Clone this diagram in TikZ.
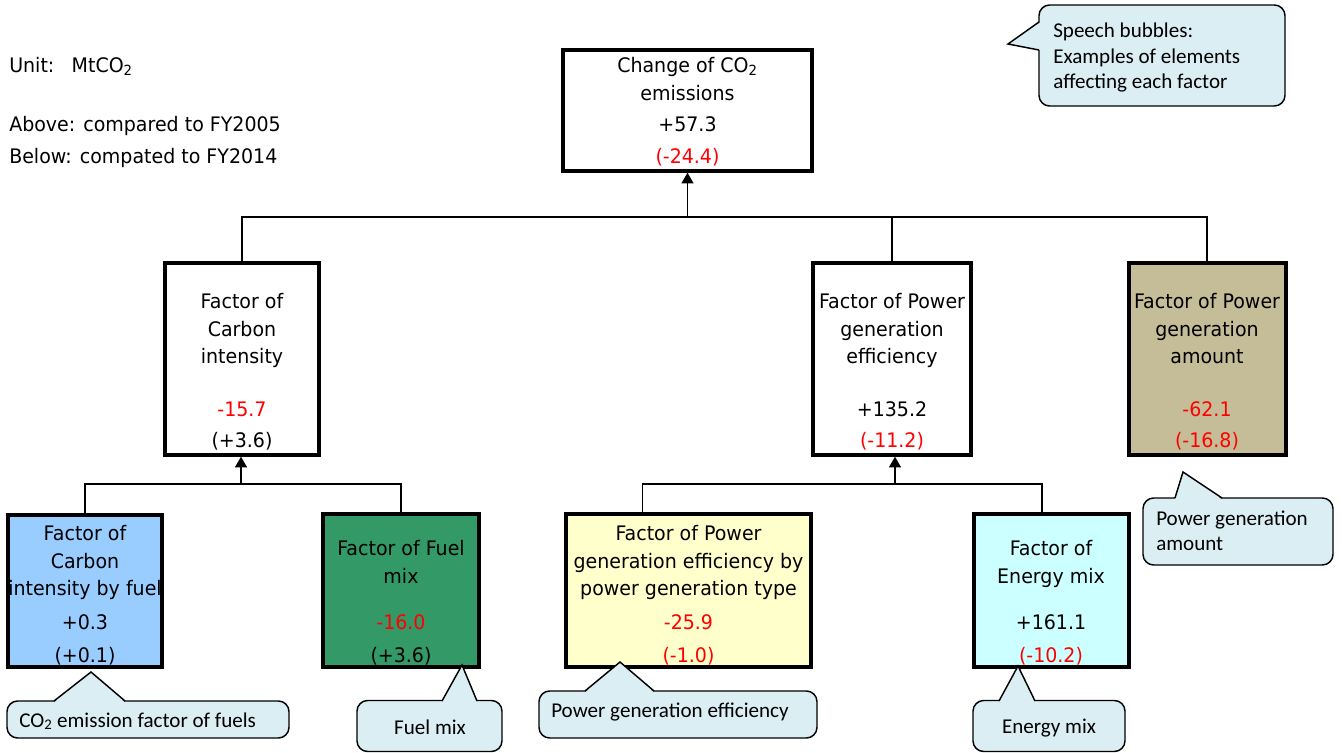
\documentclass[tikz,border=0pt]{standalone}
\usepackage{fontspec}
\usetikzlibrary{arrows.meta}
\newfontfamily\mainf[FakeStretch=0.95]{DejaVu Sans}
\newfontfamily\bubf{Carlito}
\definecolor{bubfill}{HTML}{DBEEF4}
\definecolor{cblue}{HTML}{99CCFF}
\definecolor{cgreen}{HTML}{339966}
\definecolor{cyellow}{HTML}{FFFFCC}
\definecolor{ccyan}{HTML}{CCFFFF}
\definecolor{ctan}{HTML}{C4BD97}
\begin{document}
\begin{tikzpicture}[x=0.75pt,y=-0.75pt,
  box/.style n args={2}{draw=black, line width=3pt, inner sep=0pt, outer sep=0pt, minimum width=#1, minimum height=#2},
  txt/.style={font=\mainf\fontsize{15}{21}\selectfont, inner sep=0pt, anchor=base},
  lefttxt/.style={txt, anchor=base west},
  neg/.style={txt, text=red},
  bubble/.style n args={2}{draw=black, line width=1.1pt, fill=bubfill, rounded corners=8pt, inner sep=0pt, minimum width=#1, minimum height=#2},
  btxt/.style={font=\bubf\fontsize{15.8}{19}\selectfont, inner sep=0pt, anchor=base west},
  ptrfill/.style={fill=bubfill},
  ptrline/.style={draw=black, line width=1.1pt, line join=miter},
  conn/.style={draw=black, line width=1pt},
  arr/.style={conn, -{Triangle[width=9pt,length=8pt]}, shorten >=1.3pt}
]
\useasboundingbox (0,0) rectangle (1343,753);

% ---------- left legend ----------
\node[lefttxt] (unit) at (9,72) {Unit:\hspace{13pt}MtCO\textsubscript{2}};
\node[lefttxt] (above) at (9,131) {Above: compared to FY2005};
\node[lefttxt] (below) at (9,163) {Below: compated to FY2014};

% ---------- boxes ----------
\node[box={186.75pt}{90.75pt}] (top) at (687.5,110.5) {};
\node[box={115.5pt}{144pt}] (carbon) at (242,359) {};
\node[box={118.5pt}{144pt}] (pge) at (892,359) {};
\node[box={117.75pt}{144pt}, fill=ctan] (pga) at (1207,358.5) {};
\node[box={115.5pt}{114pt}, fill=cblue] (blue) at (85,591) {};
\node[box={117pt}{114.75pt}, fill=cgreen] (green) at (401,590.5) {};
\node[box={183.75pt}{114.75pt}, fill=cyellow] (yellow) at (688.5,590.5) {};
\node[box={116.25pt}{114.75pt}, fill=ccyan] (cyan) at (1051,590.5) {};

% ---------- box texts ----------
\node[txt] (t1) at (687.5,72) {Change of CO\textsubscript{2}};
\node[txt] (t2) at (687.5,100) {emissions};
\node[txt] (t3) at (687.5,131) {+57.3};
\node[neg] (t4) at (687.5,163) {(-24.4)};

\node[txt] (c1) at (242,308) {Factor of};
\node[txt] (c2) at (242,336) {Carbon};
\node[txt] (c3) at (242,363) {intensity};
\node[neg] (c4) at (242,416) {-15.7};
\node[txt] (c5) at (242,447) {(+3.6)};

\node[txt] (e1) at (892,308) {Factor of Power};
\node[txt] (e2) at (892,336) {generation};
\node[txt] (e3) at (892,363) {efficiency};
\node[txt] (e4) at (892,416) {+135.2};
\node[neg] (e5) at (892,447) {(-11.2)};

\node[txt] (a1) at (1207,308) {Factor of Power};
\node[txt] (a2) at (1207,336) {generation};
\node[txt] (a3) at (1207,363) {amount};
\node[neg] (a4) at (1207,416) {-62.1};
\node[neg] (a5) at (1207,447) {(-16.8)};

\node[txt] (b1) at (85,540) {Factor of};
\node[txt] (b2) at (85,568) {Carbon};
\node[txt] (b3) at (85,595) {intensity by fuel};
\node[txt] (b4) at (85,629) {+0.3};
\node[txt] (b5) at (85,662) {(+0.1)};

\node[txt] (g1) at (401,555) {Factor of Fuel};
\node[txt] (g2) at (401,583) {mix};
\node[neg] (g3) at (401,629) {-16.0};
\node[txt] (g4) at (401,662) {(+3.6)};

\node[txt] (y1) at (688.5,540) {Factor of Power};
\node[txt] (y2) at (688.5,568) {generation efficiency by};
\node[txt] (y3) at (688.5,595) {power generation type};
\node[neg] (y4) at (688.5,629) {-25.9};
\node[neg] (y5) at (688.5,662) {(-1.0)};

\node[txt] (m1) at (1051,555) {Factor of};
\node[txt] (m2) at (1051,583) {Energy mix};
\node[txt] (m3) at (1051,629) {+161.1};
\node[neg] (m4) at (1051,662) {(-10.2)};

% ---------- connectors ----------
\coordinate (bar1) at (687.5,217);
\draw[conn] (carbon.north) |- (bar1) -| (pga.north);
\draw[conn] (pge.north) -- (pge.north |- bar1);
\draw[arr] (bar1) -- (top.south);

\coordinate (bar2) at (241,484);
\draw[conn] (blue.north) |- (bar2) -| (green.north);
\draw[arr] (bar2) -- (bar2 |- carbon.south);

\coordinate (bar3) at (895,484);
\coordinate (yj) at ([xshift=-34.5pt]yellow.north);
\coordinate (mj) at ([xshift=-6.75pt]cyan.north);
\draw[conn] (yj) |- (bar3) -| (mj);
\draw[arr] (bar3) -- (bar3 |- pge.south);

% ---------- speech bubbles ----------
% legend bubble
\node[bubble={184.5pt}{75.75pt}] (bl) at (1162,55.5) {};
\fill[ptrfill] (1040.5,22) -- (1008,44) -- (1040.5,50) -- cycle;
\draw[ptrline] (1039,22) -- (1008,44) -- (1039,50);
\node[btxt] (bl1) at (1053,37) {Speech bubbles:};
\node[btxt] (bl2) at (1053,63) {Examples of elements};
\node[btxt] (bl3) at (1053,88) {affecting each factor};

% CO2 emission factor
\node[bubble={211.5pt}{27.75pt}] (bco) at (148,719.5) {};
\fill[ptrfill] (54,702.5) -- (91,672) -- (125,702.5) -- cycle;
\draw[ptrline] (54,701) -- (91,672) -- (125,701);
\node[btxt] (bcot) at (19,727) {CO\textsubscript{2} emission factor of fuels};

% Fuel mix
\node[bubble={108.75pt}{38.25pt}] (bfu) at (429.5,726) {};
\fill[ptrfill] (442,702.5) -- (462,665) -- (477,702.5) -- cycle;
\draw[ptrline] (442,701) -- (462,665) -- (477,701);
\node[btxt, anchor=base] (bfut) at (430,734) {Fuel mix};

% Power generation efficiency
\node[bubble={208.5pt}{35.25pt}] (bpe) at (678,714.5) {};
\fill[ptrfill] (585,692.5) -- (620,662) -- (654,692.5) -- cycle;
\draw[ptrline] (585,691) -- (620,662) -- (654,691);
\node[btxt] (bpet) at (551,717) {Power generation efficiency};

% Energy mix
\node[bubble={114pt}{38.25pt}] (ben) at (1049,726) {};
\fill[ptrfill] (999,702.5) -- (1018,666) -- (1035,702.5) -- cycle;
\draw[ptrline] (999,701) -- (1018,666) -- (1035,701);
\node[btxt, anchor=base] (bent) at (1049,733) {Energy mix};

% Power generation amount
\node[bubble={142.5pt}{50.25pt}] (bpa) at (1238,531.5) {};
\fill[ptrfill] (1175,499.5) -- (1183,472) -- (1222,499.5) -- cycle;
\draw[ptrline] (1175,498) -- (1183,472) -- (1222,498);
\node[btxt] (bpa1) at (1156,525) {Power generation};
\node[btxt] (bpa2) at (1156,550) {amount};
\end{tikzpicture}
\end{document}
